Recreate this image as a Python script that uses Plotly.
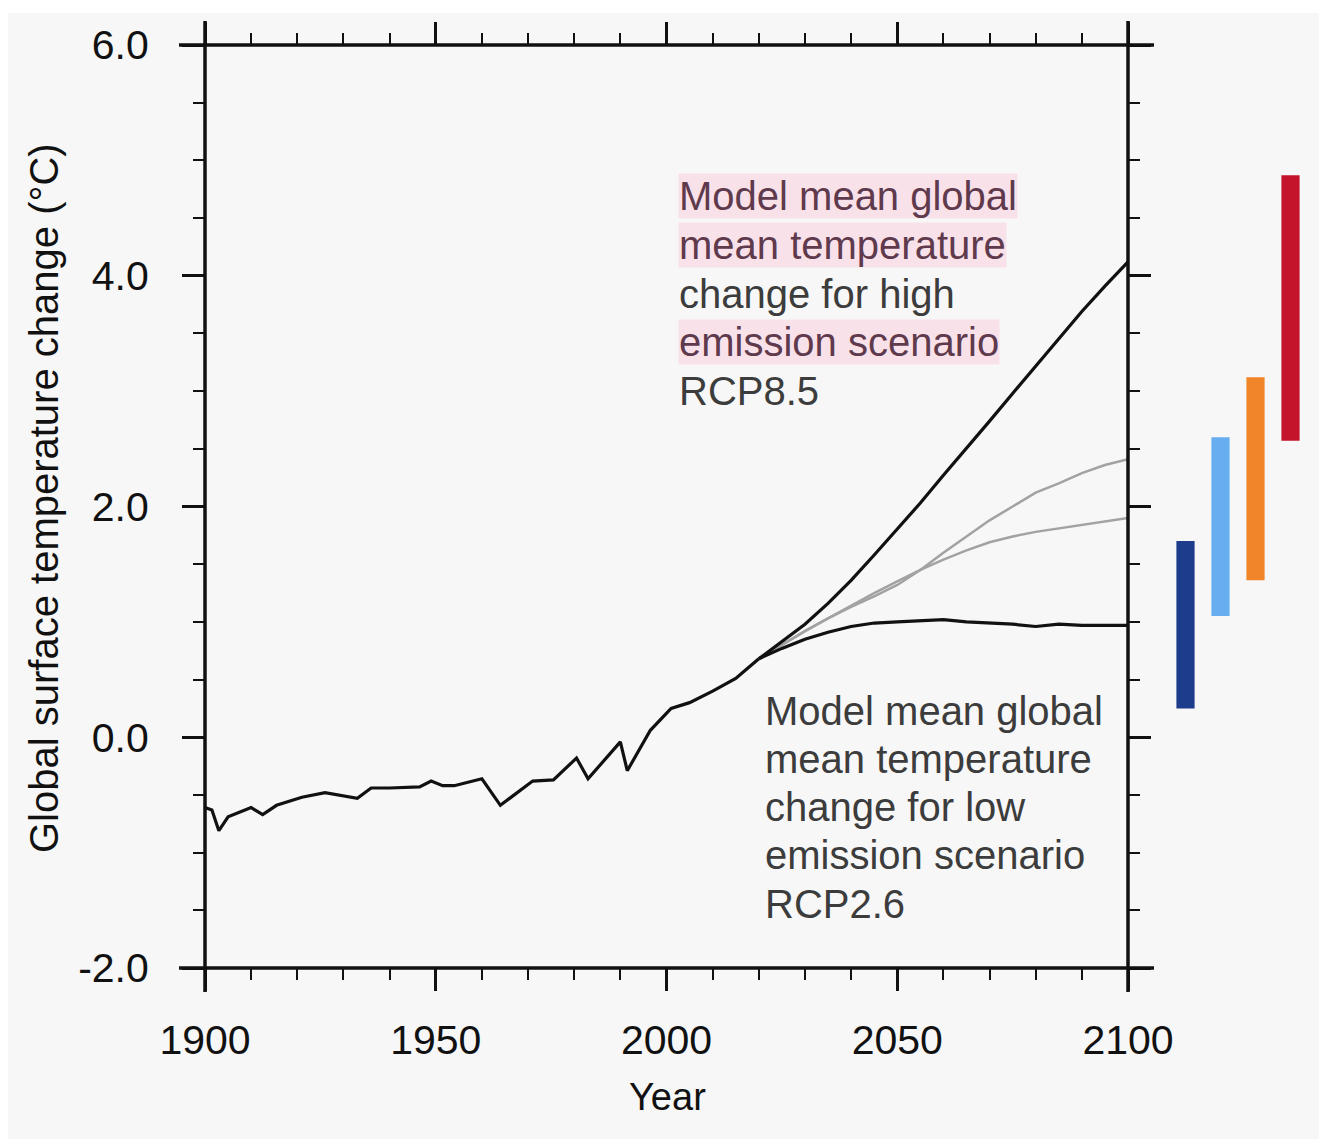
import plotly.graph_objects as go

# ---------------- data ----------------
hist_years = [1900, 1901.5, 1903, 1905, 1910, 1912.5, 1915.5, 1921, 1926, 1930, 1933, 1936,
              1940, 1946.5, 1949, 1951.5, 1954, 1960, 1964, 1966, 1971, 1975.5, 1980.5, 1983,
              1990, 1991.5, 1996.5, 2001, 2005, 2010, 2015, 2020]
hist_vals = [-0.61, -0.63, -0.81, -0.69, -0.61, -0.67, -0.59, -0.52, -0.48, -0.51, -0.53, -0.44,
             -0.44, -0.43, -0.38, -0.42, -0.42, -0.36, -0.59, -0.53, -0.38, -0.37, -0.18, -0.36,
             -0.04, -0.29, 0.06, 0.25, 0.30, 0.40, 0.51, 0.68]

proj_years = [2020, 2025, 2030, 2035, 2040, 2045, 2050, 2055, 2060, 2065, 2070, 2075, 2080,
              2085, 2090, 2095, 2100]
rcp85 = [0.68, 0.83, 0.98, 1.16, 1.36, 1.58, 1.80, 2.03, 2.27, 2.50, 2.74, 2.98, 3.22,
         3.45, 3.69, 3.91, 4.12]
rcp60 = [0.68, 0.80, 0.92, 1.03, 1.13, 1.22, 1.32, 1.45, 1.60, 1.74, 1.88, 2.00, 2.12,
         2.20, 2.29, 2.36, 2.41]
rcp45 = [0.68, 0.80, 0.92, 1.03, 1.14, 1.25, 1.35, 1.45, 1.54, 1.62, 1.69, 1.74, 1.78,
         1.81, 1.84, 1.87, 1.90]
rcp26 = [0.68, 0.77, 0.85, 0.91, 0.96, 0.99, 1.00, 1.01, 1.02, 1.00, 0.99, 0.98, 0.96,
         0.98, 0.97, 0.97, 0.97]

bar_cats = ["RCP2.6", "RCP4.5", "RCP6.0", "RCP8.5"]
bar_low = [0.25, 1.05, 1.36, 2.57]
bar_high = [1.70, 2.60, 3.12, 4.87]
bar_colors = ["#1d3c8c", "#66aef0", "#f0852a", "#c3142c"]

x_ticks = [1900, 1950, 2000, 2050, 2100]
y_ticks = [-2.0, 0.0, 2.0, 4.0, 6.0]

upper_text = ["Model mean global", "mean temperature", "change for high",
              "emission scenario", "RCP8.5"]
lower_text = ["Model mean global", "mean temperature", "change for low",
              "emission scenario", "RCP2.6"]

# ---------------- geometry (screen pixels) ----------------
OFF = 8                      # browser body margin
W, H = 1327 - OFF, 1139 - OFF
L, R_EDGE, T, B_EDGE = 205, 1308, 45, 968
PW, PH = R_EDGE - L, B_EDGE - T
X_MAIN_END = 1128


def px_x(p):
    return (p - L) / PW


def px_y(p):
    return (B_EDGE - p) / PH


xd = px_x(X_MAIN_END)
font_family = "Liberation Sans, Arial, Helvetica, sans-serif"

fig = go.Figure()

fig.add_trace(go.Scatter(x=hist_years, y=hist_vals, mode="lines",
                         line=dict(color="#111111", width=3.2), showlegend=False,
                         hoverinfo="skip"))
fig.add_trace(go.Scatter(x=proj_years, y=rcp60, mode="lines",
                         line=dict(color="#a2a2a2", width=2.5), showlegend=False))
fig.add_trace(go.Scatter(x=proj_years, y=rcp45, mode="lines",
                         line=dict(color="#a2a2a2", width=2.5), showlegend=False))
fig.add_trace(go.Scatter(x=proj_years, y=rcp85, mode="lines",
                         line=dict(color="#111111", width=3.2), showlegend=False))
fig.add_trace(go.Scatter(x=proj_years, y=rcp26, mode="lines",
                         line=dict(color="#111111", width=3.2), showlegend=False))

fig.add_trace(go.Bar(x=bar_cats, y=[h - l for h, l in zip(bar_high, bar_low)], base=bar_low,
                     marker=dict(color=bar_colors, line=dict(width=0)),
                     width=0.52, xaxis="x2", yaxis="y", showlegend=False))

axis_font = dict(family=font_family, size=41, color="#111111")

fig.update_layout(
    width=W, height=H, autosize=False,
    margin=dict(l=L - OFF, r=1327 - R_EDGE, t=T - OFF, b=1139 - B_EDGE, pad=0,
                autoexpand=False),
    paper_bgcolor="#f7f7f7", plot_bgcolor="rgba(0,0,0,0)",
    xaxis=dict(domain=[0, xd], range=[1900, 2100], tickvals=x_ticks,
               ticktext=[str(v) for v in x_ticks], ticks="outside", ticklen=22,
               tickwidth=3, tickcolor="#111111", showline=False, mirror="ticks",
               showgrid=False, zeroline=False, tickfont=axis_font, automargin=False,
               ticklabelstandoff=14,
               minor=dict(dtick=10, tick0=1900, ticks="outside", ticklen=11, tickwidth=2,
                          tickcolor="#111111", showgrid=False)),
    yaxis=dict(range=[-2, 6], tickvals=y_ticks, ticktext=["%.1f" % v for v in y_ticks],
               ticks="outside", ticklen=22, tickwidth=3, tickcolor="#111111",
               showline=False, mirror="ticks", showgrid=False, zeroline=False,
               tickfont=axis_font, ticklabelstandoff=25, automargin=False,
               minor=dict(dtick=0.5, tick0=0, ticks="outside", ticklen=11, tickwidth=2,
                          tickcolor="#111111", showgrid=False)),
    xaxis2=dict(domain=[px_x(1168), 1.0], range=[-0.5, 3.5], anchor="y", visible=False,
                automargin=False),
    bargap=0.48,
)

# frame lines extending beyond the plot area
ext_x = 26 / PW
ext_y = 24 / PH
line_style = dict(color="#111111", width=3.5)
shapes = [
    dict(type="rect", xref="paper", yref="paper", x0=px_x(OFF), x1=px_x(1327), y0=px_y(OFF),
         y1=px_y(13), fillcolor="white", line=dict(width=0), layer="below"),
    dict(type="line", xref="paper", yref="paper", x0=-ext_x, x1=xd + ext_x, y0=0, y1=0, line=line_style),
    dict(type="line", xref="paper", yref="paper", x0=-ext_x, x1=xd + ext_x, y0=1, y1=1, line=line_style),
    dict(type="line", xref="paper", yref="paper", x0=0, x1=0, y0=-ext_y, y1=1 + ext_y, line=line_style),
    dict(type="line", xref="paper", yref="paper", x0=xd, x1=xd, y0=-ext_y, y1=1 + ext_y, line=line_style),
]
fig.update_layout(shapes=shapes)

ann_font = dict(family=font_family, size=40, color="#3c3c3c")
annotations = []
upper_centers = [196, 245, 294, 342, 391]
pink_lines = [0, 1, 3]
for i, (txt, cy) in enumerate(zip(upper_text, upper_centers)):
    pink = i in pink_lines
    annotations.append(dict(
        text=txt, xref="paper", yref="paper", x=px_x(678), y=px_y(cy),
        xanchor="left", yanchor="middle", showarrow=False,
        font=dict(family=font_family, size=40, color="#5e3a4c" if pink else "#3c3c3c"),
        bgcolor="#f9e1ea" if pink else None, borderpad=0))
lower_centers = [711, 759, 807, 855, 904]
for txt, cy in zip(lower_text, lower_centers):
    annotations.append(dict(
        text=txt, xref="paper", yref="paper", x=px_x(763), y=px_y(cy),
        xanchor="left", yanchor="middle", showarrow=False, font=ann_font))

annotations.append(dict(text="Year", xref="paper", yref="paper", x=px_x(667), y=px_y(1097),
                        xanchor="center", yanchor="middle", showarrow=False,
                        font=dict(family=font_family, size=38, color="#111111")))
annotations.append(dict(text="Global surface temperature change (°C)", xref="paper", yref="paper",
                        x=px_x(44), y=px_y(498), xanchor="center", yanchor="middle",
                        textangle=-90, showarrow=False,
                        font=dict(family=font_family, size=40, color="#111111")))
fig.update_layout(annotations=annotations)

fig.write_html("out.html")
